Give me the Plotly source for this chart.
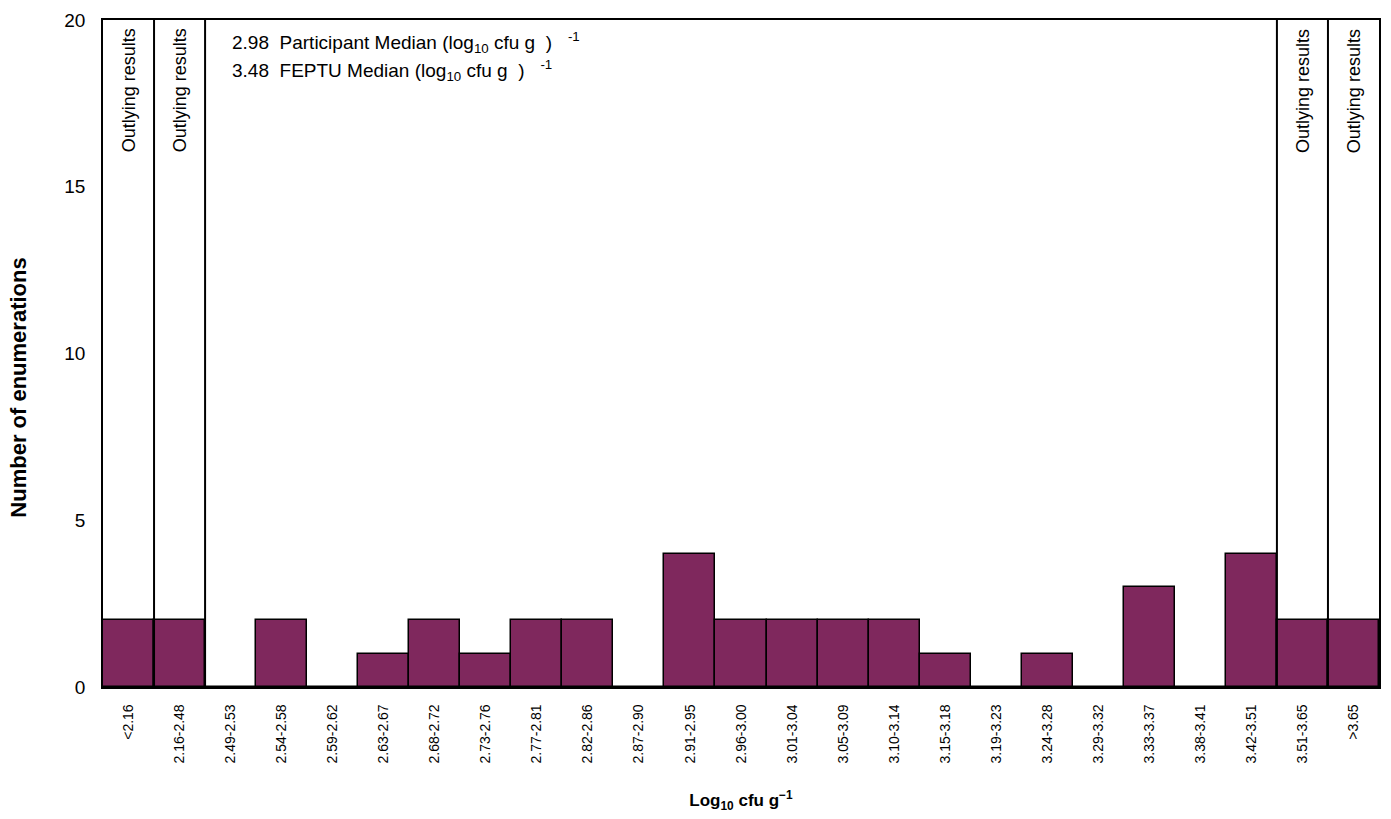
import plotly.graph_objects as go

categories = ["<2.16", "2.16-2.48", "2.49-2.53", "2.54-2.58", "2.59-2.62", "2.63-2.67",
              "2.68-2.72", "2.73-2.76", "2.77-2.81", "2.82-2.86", "2.87-2.90", "2.91-2.95",
              "2.96-3.00", "3.01-3.04", "3.05-3.09", "3.10-3.14", "3.15-3.18", "3.19-3.23",
              "3.24-3.28", "3.29-3.32", "3.33-3.37", "3.38-3.41", "3.42-3.51", "3.51-3.65", ">3.65"]
counts = [2, 2, 0, 2, 0, 1, 2, 1, 2, 2, 0, 4, 2, 2, 2, 2, 1, 0, 1, 0, 3, 0, 4, 2, 2]
outlying_idx = [0, 1, 23, 24]
participant_median = "2.98"
feptu_median = "3.48"

FONT = "Liberation Sans, Arial, sans-serif"

fig = go.Figure()
fig.add_trace(go.Bar(
    x=list(range(len(categories))), y=counts,
    marker=dict(color="#7f285d", line=dict(color="black", width=1.5)),
    width=1.0, showlegend=False,
))

# separator lines for outlying columns
for b in [0.5, 1.5, 22.5, 23.5]:
    fig.add_shape(type="line", xref="x", yref="y", x0=b, x1=b, y0=0, y1=20,
                  line=dict(color="black", width=2))

for i in outlying_idx:
    fig.add_annotation(x=i, y=19.8, xref="x", yref="y", text="Outlying results",
                       textangle=-90, showarrow=False, yanchor="top", xanchor="center",
                       font=dict(family=FONT, size=18, color="black"))

fig.add_annotation(x=1.99, y=19.32, xref="x", yref="y", xanchor="left", yanchor="middle",
                   showarrow=False,
                   text=participant_median + "  Participant Median (log<sub>10</sub> cfu g  )   <sup>-1</sup>",
                   font=dict(family=FONT, size=19, color="black"))
fig.add_annotation(x=1.99, y=18.5, xref="x", yref="y", xanchor="left", yanchor="middle",
                   showarrow=False,
                   text=feptu_median + "  FEPTU Median (log<sub>10</sub> cfu g  )   <sup>-1</sup>",
                   font=dict(family=FONT, size=19, color="black"))

# y-axis title (placed as annotation to match its offset position)
fig.add_annotation(x=-0.0665, y=0.449, xref="paper", yref="paper", xanchor="center", yanchor="middle",
                   showarrow=False, textangle=-90,
                   text="<b>Number of enumerations</b>",
                   font=dict(family=FONT, size=22, color="black"))

fig.update_layout(
    width=1391, height=819,
    margin=dict(l=103, r=10, t=14, b=132),
    plot_bgcolor="white", paper_bgcolor="white",
    bargap=0,
    font=dict(family=FONT, color="black"),
    xaxis=dict(
        tickmode="array", tickvals=list(range(len(categories))), ticktext=categories,
        tickangle=-90, tickfont=dict(size=14, family=FONT),
        range=[-0.5, len(categories) - 0.5],
        showline=True, linecolor="black", linewidth=1.5, mirror=True,
        showgrid=False, zeroline=False, ticks="outside", ticklen=10, tickcolor="white",
        title=dict(text="<b>Log<sub>10</sub> cfu g<sup>−1</sup></b>", font=dict(size=17, family=FONT),
                   standoff=32),
    ),
    yaxis=dict(
        range=[0, 20], tickvals=[0, 5, 10, 15, 20],
        tickfont=dict(size=19, family=FONT),
        showline=True, linecolor="black", linewidth=1.5, mirror=True,
        showgrid=False, zeroline=False, ticks="outside", ticklen=12, tickcolor="white",
    ),
)

fig.write_html("out.html", config={"displayModeBar": False},
               post_script="document.body.style.margin='0';document.body.style.overflow='hidden';")
